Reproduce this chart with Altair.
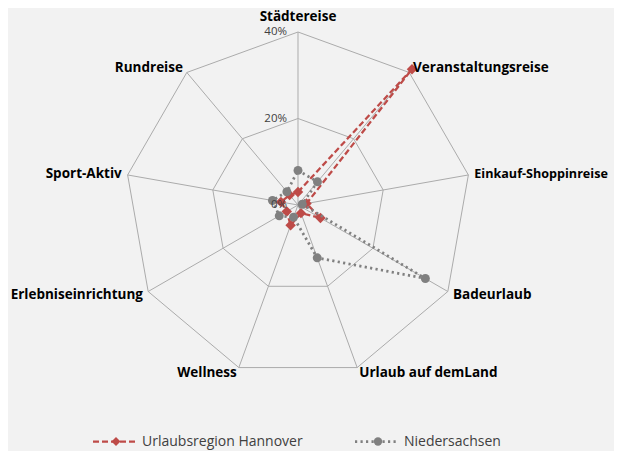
import math
import altair as alt
import pandas as pd

# ---------------- data ----------------
categories = ["Städtereise", "Veranstaltungsreise", "Einkauf-Shoppinreise", "Badeurlaub",
              "Urlaub auf demLand", "Wellness", "Erlebniseinrichtung", "Sport-Aktiv", "Rundreise"]
hannover = [3, 41, 2, 6, 2, 5, 3, 4, 3]
niedersachsen = [8, 7, 1, 34, 13, 3, 5, 6, 4]
series_names = ["Urlaubsregion Hannover", "Niedersachsen"]
tick_values = [0, 20, 40]
tick_labels = ["0%", "20%", "40%"]
grid_levels = [20, 40]

# ---------------- layout ----------------
W, H = 606, 443
CX, CY = 290, 197          # centre of the radar in plot pixels
PX = 173 / 40              # pixels per percent
N = len(categories)
RED = "#be4b48"
GRAY = "#808080"
GRIDC = "#ababab"
BG = "#f2f2f2"
FONT = "Open Sans"

xs = alt.Scale(domain=[-CX / PX, (W - CX) / PX], nice=False, zero=False)
ys = alt.Scale(domain=[-(H - CY) / PX, CY / PX], nice=False, zero=False)

polar = dict(
    ang=f"datum.idx * 2 * PI / {N}",
    px="datum.value * sin(datum.ang)",
    py="datum.value * cos(datum.ang)",
)

# series table (closed loop: first category repeated at the end)
rows = []
for s, vals in zip(series_names, [hannover, niedersachsen]):
    for i in range(N + 1):
        rows.append({"series": s, "idx": i, "value": vals[i % N], "cat": categories[i % N]})
series_df = pd.DataFrame(rows)

grid_df = pd.DataFrame([{"level": l, "idx": i, "value": l} for l in grid_levels for i in range(N + 1)])
spoke_df = pd.DataFrame([{"idx": i, "value": max(grid_levels), "zero": 0} for i in range(N)])
lab_r = max(grid_levels) + 6 / PX
label_df = pd.DataFrame([{"idx": i, "name": c, "value": lab_r} for i, c in enumerate(categories)])
tick_df = pd.DataFrame({"value": tick_values, "label": tick_labels, "zero": [0] * len(tick_values)})
legend_df = pd.DataFrame({"series": series_names})

enc = dict(x=alt.X("px:Q", scale=xs, axis=None), y=alt.Y("py:Q", scale=ys, axis=None))

grid = alt.Chart(grid_df).transform_calculate(**polar).mark_line(
    color=GRIDC, strokeWidth=1).encode(order="idx:Q", detail="level:N", **enc)

spokes = alt.Chart(spoke_df).transform_calculate(**polar).mark_rule(
    color=GRIDC, strokeWidth=1).encode(x2=alt.X2("zero:Q"), y2=alt.Y2("zero:Q"), **enc)

base = alt.Chart(series_df).transform_calculate(**polar)

red_line = base.transform_filter(alt.datum.series == series_names[0]).mark_line(
    color=RED, strokeWidth=2.25, strokeDash=[6, 3]).encode(order="idx:Q", **enc)
red_pts = base.transform_filter((alt.datum.series == series_names[0]) & (alt.datum.idx < N)).mark_point(
    shape="diamond", filled=True, size=110, color=RED, opacity=1).encode(**enc)
gray_line = base.transform_filter(alt.datum.series == series_names[1]).mark_line(
    color=GRAY, strokeWidth=2.75, strokeDash=[2.2, 3.3]).encode(order="idx:Q", **enc)
gray_pts = base.transform_filter((alt.datum.series == series_names[1]) & (alt.datum.idx < N)).mark_point(
    shape="circle", filled=True, size=80, color=GRAY, opacity=1).encode(**enc)

lab_base = alt.Chart(label_df).transform_calculate(**polar)
txt = dict(font=FONT, fontWeight="bold", color="#000000", baseline="middle")
lab_top = lab_base.transform_filter(alt.datum.idx == 0).mark_text(
    align="center", dy=-9.5, fontSize=13.5, **txt).encode(text="name:N", **enc)
lab_right = lab_base.transform_filter((alt.datum.idx >= 1) & (alt.datum.idx <= 4) & (alt.datum.idx != 2)).mark_text(
    align="left", fontSize=13.5, **txt).encode(text="name:N", **enc)
lab_right_long = lab_base.transform_filter(alt.datum.idx == 2).mark_text(
    align="left", fontSize=12.6, **txt).encode(text="name:N", **enc)
lab_left = lab_base.transform_filter(alt.datum.idx >= 5).mark_text(
    align="right", fontSize=13.5, **txt).encode(text="name:N", **enc)

ticks = alt.Chart(tick_df).mark_text(
    align="right", baseline="middle", dx=-11, font=FONT, fontSize=11.5, color="#404040").encode(
    x=alt.X("zero:Q", scale=xs, axis=None), y=alt.Y("value:Q", scale=ys, axis=None), text="label:N")

# legend
LY = 433.5
leg = alt.Chart(legend_df)
leg_red_line = leg.transform_filter(alt.datum.series == series_names[0]).mark_rule(
    color=RED, strokeWidth=2.25, strokeDash=[6, 3]).encode(
    x=alt.value(85), x2=alt.value(130), y=alt.value(LY))
leg_red_pt = leg.transform_filter(alt.datum.series == series_names[0]).mark_point(
    shape="diamond", filled=True, size=80, color=RED, opacity=1).encode(x=alt.value(108), y=alt.value(LY))
leg_red_txt = leg.transform_filter(alt.datum.series == series_names[0]).mark_text(
    align="left", baseline="middle", font=FONT, fontSize=14, color="#404040").encode(
    x=alt.value(134), y=alt.value(LY), text="series:N")
leg_gray_line = leg.transform_filter(alt.datum.series == series_names[1]).mark_rule(
    color=GRAY, strokeWidth=2.75, strokeDash=[2.2, 3.3]).encode(
    x=alt.value(347), x2=alt.value(389), y=alt.value(LY))
leg_gray_pt = leg.transform_filter(alt.datum.series == series_names[1]).mark_point(
    shape="circle", filled=True, size=70, color=GRAY, opacity=1).encode(x=alt.value(370), y=alt.value(LY))
leg_gray_txt = leg.transform_filter(alt.datum.series == series_names[1]).mark_text(
    align="left", baseline="middle", font=FONT, fontSize=14, color="#404040").encode(
    x=alt.value(396), y=alt.value(LY), text="series:N")

chart = alt.layer(
    grid, spokes, red_line, red_pts, gray_line, gray_pts,
    lab_top, lab_right, lab_right_long, lab_left, ticks,
    leg_red_line, leg_red_pt, leg_red_txt, leg_gray_line, leg_gray_pt, leg_gray_txt,
).properties(
    width=W, height=H, padding=0, autosize=alt.AutoSizeParams(type="none"), background=BG
).configure_view(strokeWidth=0)

chart.save("out.html", embed_options={"renderer": "svg", "actions": False})
